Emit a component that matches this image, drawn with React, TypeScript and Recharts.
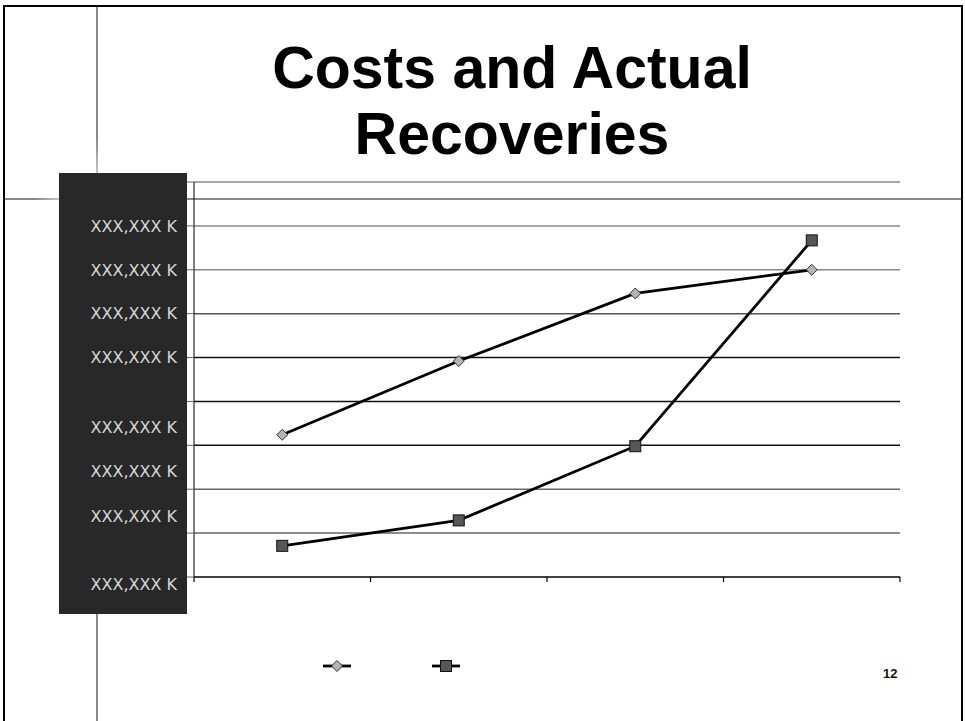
import { LineChart, Line, XAxis, YAxis, ReferenceLine, Legend } from "recharts";

// Four reporting periods, values in thousands
const periods = ["Period 1", "Period 2", "Period 3", "Period 4"];
const costs = [324, 492, 646, 700];
const recoveries = [71, 129, 298, 767];

const gridValues = [0, 100, 200, 300, 400, 500, 600, 700, 800, 900];
const tickLabels = [
  "XXX,XXX K",
  "XXX,XXX K",
  "XXX,XXX K",
  "XXX,XXX K",
  "",
  "XXX,XXX K",
  "XXX,XXX K",
  "XXX,XXX K",
  "XXX,XXX K",
  "",
];
const edgeTicks = [0, 1, 2, 3, 4];

const data = periods.map((period, i) => ({
  period,
  costs: costs[i],
  recoveries: recoveries[i],
}));

// the lower labels sit off their grid lines in the slide layout
const labelShift: Record<number, number> = { 0: 7, 100: -17, 200: -18, 300: -18 };

function gridShade(v: number) {
  if (v >= 700) return "#8a8a8a";
  if (v === 600) return "#555";
  if (v >= 300) return "#111";
  return "#666";
}

function ValueTick(props: any) {
  const { x, y, payload } = props;
  const label = tickLabels[gridValues.indexOf(payload.value)];
  if (!label) return null;
  return (
    <text
      x={x}
      y={y + (labelShift[payload.value] || 0)}
      dy="0.36em"
      textAnchor="end"
      fill="#d6d6d6"
      fontFamily="DejaVu Sans"
      fontSize={16}
    >
      {label}
    </text>
  );
}

function Diamond({ cx, cy }: { cx: number; cy: number }) {
  return (
    <polygon
      points={`${cx},${cy - 5.5} ${cx + 5.5},${cy} ${cx},${cy + 5.5} ${cx - 5.5},${cy}`}
      fill="#b4b4b4"
      stroke="#333"
      strokeWidth={1}
    />
  );
}

function Square({ cx, cy }: { cx: number; cy: number }) {
  return <rect x={cx - 5.5} y={cy - 5.5} width={11} height={11} fill="#575757" stroke="#111" strokeWidth={1} />;
}

const legendOrder = ["costs", "recoveries"];

function LegendMarks({ payload }: any) {
  return (
    <svg width={150} height={14} style={{ display: "block" }}>
      {(payload || []).map((entry: any) => {
        const x0 = 1 + legendOrder.indexOf(entry.dataKey) * 109;
        return (
          <g key={entry.dataKey}>
            <line x1={x0} x2={x0 + 28} y1={7} y2={7} stroke="#000" strokeWidth={2.8} />
            {entry.dataKey === "costs" ? <Diamond cx={x0 + 14} cy={7} /> : <Square cx={x0 + 14} cy={7} />}
          </g>
        );
      })}
    </svg>
  );
}

export default function App() {
  return (
    <div
      style={{
        position: "absolute",
        left: 0,
        top: 0,
        width: 965,
        height: 721,
        background: "#fff",
        overflow: "hidden",
      }}
    >
      {/* slide frame and guide lines */}
      <div
        style={{
          position: "absolute",
          left: 3,
          top: 5,
          width: 960,
          height: 740,
          border: "2.5px solid #000",
          boxSizing: "border-box",
        }}
      />
      <div
        style={{
          position: "absolute",
          left: 95.5,
          top: 7,
          width: 2,
          height: 714,
          background: "linear-gradient(to bottom, #888 0px, #888 130px, #c4c4c4 166px, #888 166px)",
        }}
      />
      <div
        style={{
          position: "absolute",
          left: 5,
          top: 198,
          width: 956,
          height: 2,
          background: "linear-gradient(to right, #888 0px, #888 30px, #c4c4c4 54px, #888 54px)",
        }}
      />
      <div style={{ position: "absolute", left: 59, top: 173, width: 128, height: 441, background: "#282828" }} />

      <div
        style={{
          position: "absolute",
          left: 262,
          top: 35,
          width: 500,
          textAlign: "center",
          fontFamily: "'Liberation Sans', Arial, sans-serif",
          fontWeight: 700,
          fontSize: 59,
          lineHeight: "66px",
          color: "#000",
        }}
      >
        Costs and Actual
        <br />
        Recoveries
      </div>

      <div
        style={{
          position: "absolute",
          left: 883,
          top: 666,
          fontFamily: "'Liberation Sans', Arial, sans-serif",
          fontWeight: 700,
          fontSize: 13,
          color: "#111",
        }}
      >
        12
      </div>

      <div style={{ position: "absolute", left: 0, top: 0 }}>
        <LineChart width={965} height={721} data={data} margin={{ top: 182, right: 65, bottom: 114, left: 94 }}>
          <XAxis xAxisId="cat" dataKey="period" scale="band" height={0} hide />
          {/* plain numeric axis so the tick marks fall on the period boundaries */}
          <XAxis
            xAxisId="edges"
            dataKey="edge"
            type="number"
            domain={[0, 4]}
            allowDataOverflow
            ticks={edgeTicks}
            interval={0}
            tick={{ fill: "none" }}
            tickFormatter={() => ""}
            tickSize={5}
            height={30}
            axisLine={{ stroke: "#000", strokeWidth: 1.5 }}
            tickLine={{ stroke: "#000", strokeWidth: 1.2 }}
          />
          <YAxis
            type="number"
            domain={[0, 900]}
            ticks={gridValues}
            interval={0}
            width={100}
            tickSize={7}
            tickMargin={10}
            tick={<ValueTick />}
            axisLine={{ stroke: "#000" }}
            tickLine={{ stroke: "#666" }}
          />
          {gridValues.slice(1).map((v) => (
            <ReferenceLine key={v} xAxisId="cat" y={v} stroke={gridShade(v)} strokeWidth={1.5} />
          ))}
          <Legend
            verticalAlign="middle"
            align="center"
            layout="horizontal"
            content={<LegendMarks />}
            wrapperStyle={{ top: 659, left: 322, width: 150, height: 14 }}
          />
          <Line
            xAxisId="cat"
            name="Costs"
            dataKey="costs"
            stroke="#000"
            strokeWidth={2.8}
            isAnimationActive={false}
            dot={(p: any) => <Diamond key={`c${p.index}`} cx={p.cx} cy={p.cy} />}
          />
          <Line
            xAxisId="cat"
            name="Actual Recoveries"
            dataKey="recoveries"
            stroke="#000"
            strokeWidth={2.8}
            isAnimationActive={false}
            dot={(p: any) => <Square key={`r${p.index}`} cx={p.cx} cy={p.cy} />}
          />
        </LineChart>
      </div>
    </div>
  );
}
